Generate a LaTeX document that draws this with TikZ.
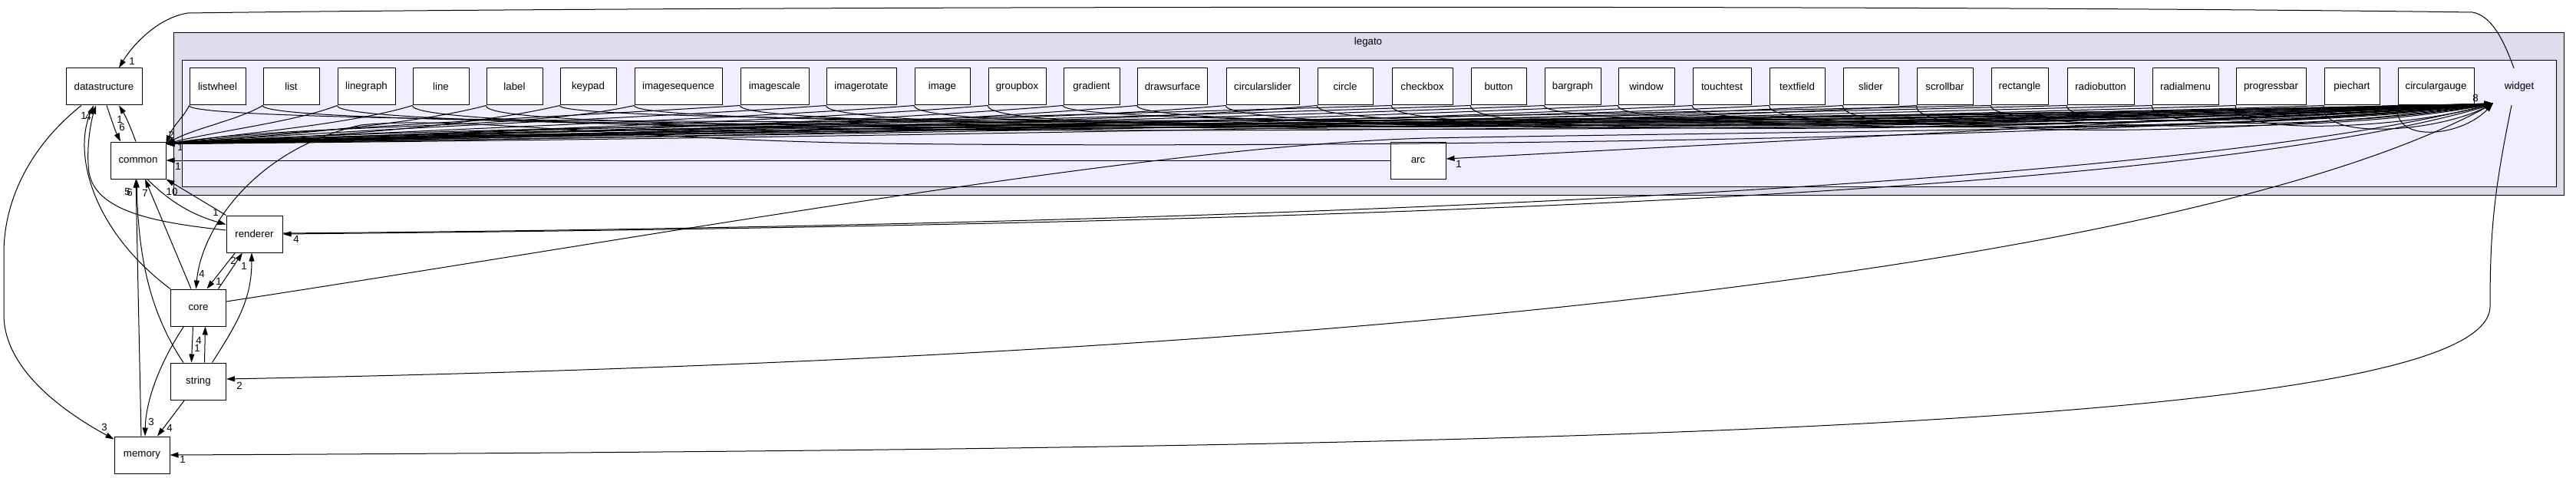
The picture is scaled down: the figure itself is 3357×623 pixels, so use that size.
\documentclass[tikz,border=0pt]{standalone}
\usepackage{fontspec}
\setmainfont{Liberation Sans}
\usetikzlibrary{calc,positioning,arrows.meta}
\definecolor{legatofill}{HTML}{DDDDEE}
\definecolor{widgetfill}{HTML}{EEEEFF}
\def\subdirs{listwheel/283.5/73, list/379.5/73, linegraph/477.5/75, line/574.5/73,
label/670.5/73, keypad/766.5/73, imagesequence/884/114, imagescale/1009.5/89,
imagerotate/1122.5/91, image/1228/72, groupbox/1325.5/75, gradient/1422.5/73,
drawsurface/1528/91, circularslider/1645.5/95, circle/1753/72, checkbox/1853.5/79,
button/1953/72, bargraph/2049.5/73, window/2145.5/73, touchtest/2244/76,
textfield/2342/72, slider/2438/72, scrollbar/2534.5/73, rectangle/2632/74,
radiobutton/2737.5/87, radialmenu/2848/86, progressbar/2959.5/91, piechart/3065/72,
circulargauge/3174.5/99}

\begin{document}
\begin{tikzpicture}[x=1pt,y=-1pt,inner sep=0pt,
  font=\fontsize{13.3}{15}\selectfont,
  dirbox/.style={draw=black,fill=white,line width=1pt,minimum height=48pt},
  dep/.style={line width=1pt,-{Triangle[length=11pt,width=7pt]}},
  num/.style={inner sep=0pt}]
\useasboundingbox (0,0) rectangle (3357,623);

\draw[line width=1pt,fill=legatofill] (226,43) rectangle (3341,254);
\draw[line width=1pt,fill=widgetfill] (237,79) rectangle (3331,243.5);
\node (legato) at (1783,55) {legato};

\node[dirbox,minimum width=99pt] (datastructure) at (135.5,113) {datastructure};
\node[dirbox,minimum width=72pt] (common) at (180,209) {common};
\node[dirbox,minimum width=73pt] (renderer) at (331.5,305) {renderer};
\node[dirbox,minimum width=72pt] (core) at (258.5,401) {core};
\node[dirbox,minimum width=72pt] (string) at (258.5,497) {string};
\node[dirbox,minimum width=72pt] (memory) at (185,593) {memory};
\node[dirbox,minimum width=72pt] (arc) at (1848,209) {arc};
\node[minimum width=68pt,minimum height=48pt] (widget) at (3283,113) {widget};
\coordinate (wtip) at ([yshift=-22pt]widget.west);

\foreach \n/\x/\w in \subdirs
  \node[dirbox,minimum width=\w pt] (\n) at (\x,113) {\n};

\foreach \n/\x/\w [count=\i] in \subdirs {
  \pgfmathsetmacro\xl{\x-\w/2}
  \pgfmathsetmacro\ca{\xl-0.25*(\xl-216)}
  \pgfmathsetmacro\cb{216+0.3*(\xl-216)}
  \pgfmathsetmacro\ya{150+mod(\i,8)*3}
  \pgfmathsetmacro\yb{160+mod(\i,7)*3.5}
  \draw[dep] (\n.south west) .. controls (\ca,\ya) and (\cb,\yb) .. ([yshift=-3pt]common.north east);
  \pgfmathsetmacro\cc{\xl-8}
  \pgfmathsetmacro\cd{3249-0.35*(3249-\xl)}
  \pgfmathsetmacro\yc{166+mod(\i,6)*4}
  \pgfmathsetmacro\yd{156+mod(\i,5)*6}
  \draw[dep] (\n.south west) .. controls (\cc,\yc) and (\cd,\yd) .. (wtip);
}

\draw[dep] ([xshift=-7pt]widget.north) .. controls (3262,50) and (3246,20) .. (3222,16)
  .. controls (2500,6) and (900,8) .. (245,17)
  .. controls (205,23) and (172,60) .. ([xshift=19.5pt]datastructure.north);
\draw[dep] ([xshift=3.5pt]datastructure.south) .. controls (145,155) and (150,170) .. ([xshift=-23pt]common.north);
\draw[dep] ([xshift=-3pt]common.north) .. controls (170,165) and (163,150) .. ([xshift=19.5pt]datastructure.south);
\draw[dep] ([xshift=-29.5pt]datastructure.south) .. controls (40,190) and (5,260) .. (5,330)
  -- (5,410) .. controls (5,480) and (80,535) .. ([yshift=-4pt]memory.north west);
\draw[dep] (core.north west) .. controls (120,300) and (95,200) .. ([xshift=-13.5pt]datastructure.south);
\draw[dep] ([yshift=5pt]renderer.west) .. controls (200,290) and (125,275) .. (116,225)
  .. controls (112,195) and (118,160) .. ([xshift=-10.5pt]datastructure.south);
\draw[dep] ([xshift=12pt]common.south) .. controls (220,262) and (250,280) .. ([yshift=-12pt]renderer.north west);
\draw[dep] (renderer.north west) -- (common.south east);
\draw[dep] ([xshift=-9.5pt]core.north) -- ([xshift=9pt]common.south);
\draw[dep] ([xshift=-19.5pt]string.north) .. controls (190,400) and (180,320) .. ([xshift=-2pt]common.south);
\draw[dep] ([xshift=-1pt]memory.north) -- ([xshift=-3pt]common.south);
\draw[dep] (wtip) .. controls (2700,190) and (1500,192) .. (1150,187)
  .. controls (800,182) and (600,150) .. (470,163)
  .. controls (330,195) and (262,300) .. ([xshift=-3pt]core.north);
\draw[dep] ([xshift=26pt]core.north) -- ([xshift=-15.5pt]renderer.south);
\draw[dep] ([xshift=-25pt]renderer.south) -- ([xshift=11pt]core.north);
\draw[dep] ([xshift=18pt]string.north) .. controls (310,420) and (328,390) .. ([xshift=-3.5pt]renderer.south);
\draw[dep] ([xshift=-7pt]core.south) -- ([xshift=-9pt]string.north);
\draw[dep] ([xshift=8pt]string.north) -- ([xshift=9pt]core.south);
\draw[dep] ([xshift=-19pt]core.south) .. controls (210,470) and (190,520) .. ([xshift=4pt]memory.north);
\draw[dep] ([xshift=-18pt]string.south) -- ([xshift=20pt]memory.north);
\draw[dep] ([xshift=-10pt]widget.south) .. controls (3250,250) and (3245,300) .. (3245,400)
  .. controls (3240,560) and (2000,585) .. (memory.east);
\draw[dep] ([xshift=-38pt]widget.south) .. controls (2950,300) and (2100,460) .. ([yshift=3pt]string.east);
\draw[dep] ([xshift=-38pt]widget.south) .. controls (2900,240) and (2000,290) .. (renderer.east);
\draw[dep] ([yshift=1pt]renderer.east) .. controls (1500,295) and (2800,250) .. (wtip);
\draw[dep] ([yshift=8pt]core.east) .. controls (900,300) and (1500,190) .. (1860,180)
  .. controls (2400,170) and (3000,170) .. (wtip);
\draw[dep] (arc.west) -- (common.east);
\draw[dep] (wtip) -- ([yshift=2pt]arc.east);

\node[num] (n1) at (172,80) {1};
\node[num] (n2) at (159,166) {6};
\node[num] (n3) at (156,156) {1};
\node[num] (n4) at (136,557) {3};
\node[num] (n5) at (109,151) {1};
\node[num] (n6) at (115,152) {4};
\node[num] (n7) at (281,277) {1};
\node[num] (n8) at (224,250) {10};
\node[num] (n9) at (189,252) {7};
\node[num] (n10) at (166,250) {5};
\node[num] (n11) at (169,251) {6};
\node[num] (n12) at (263,357) {4};
\node[num] (n13) at (304,340) {2};
\node[num] (n14) at (285,367) {1};
\node[num] (n15) at (318,347) {1};
\node[num] (n16) at (257,454) {1};
\node[num] (n17) at (259,444) {4};
\node[num] (n18) at (197,550) {3};
\node[num] (n19) at (221,558) {4};
\node[num] (n20) at (238,599) {1};
\node[num] (n21) at (312,503) {2};
\node[num] (n22) at (386,312) {4};
\node[num] (n23) at (232,217) {1};
\node[num] (n24) at (1901,214) {1};
\node[num] (n25) at (223,176) {2};
\node[num] (n26) at (235,192) {1};
\node[num] (n27) at (3226,128) {8};

\end{tikzpicture}
\end{document}
